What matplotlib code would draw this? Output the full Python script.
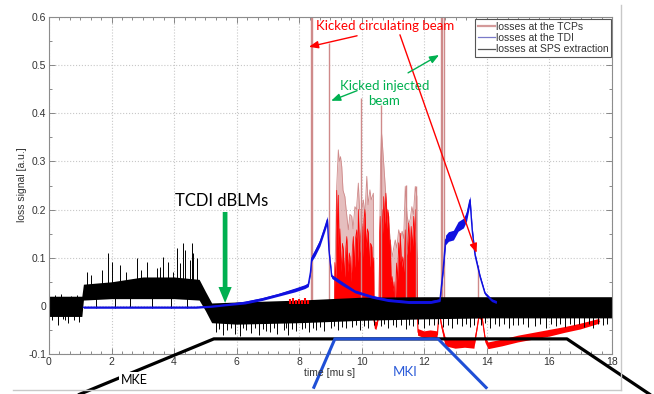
import numpy as np
import matplotlib
matplotlib.use("Agg")
import matplotlib.pyplot as plt
from matplotlib.lines import Line2D
from matplotlib.patches import FancyArrowPatch
from matplotlib.ticker import MultipleLocator

# ---------------- data ----------------
# losses at SPS extraction: upper / lower edge of the noise band
sps_t = [0.0, 1.05, 1.1, 2.0, 3.0, 4.0, 4.8, 5.0, 5.2, 6.0, 8.0, 10.0, 12.0, 14.0, 16.0, 18.0]
sps_hi = [0.02, 0.02, 0.045, 0.05, 0.06, 0.06, 0.055, 0.03, 0.006, 0.008, 0.012, 0.018, 0.019, 0.019, 0.019, 0.019]
sps_lo = [-0.022, -0.022, 0.012, 0.015, 0.015, 0.015, 0.012, -0.01, -0.035, -0.038, -0.035, -0.03, -0.027, -0.025, -0.025, -0.025]

# individual SPS spikes sticking out of the band
sps_spk0_t = [0.1, 0.3, 0.45, 0.6, 0.8, 0.95, 0.2, 0.7, 0.38, 0.88, 0.52]
sps_spk0_v = [-0.03, -0.04, -0.028, -0.035, -0.03, -0.033, 0.022, 0.021, 0.024, 0.023, -0.03]
sps_spk1_t = [1.2, 1.35, 1.5, 1.7, 1.89, 2.0, 2.1, 2.27, 2.45, 2.6, 2.8, 2.95, 3.12, 3.3, 3.44,
              3.55, 3.65, 3.8, 3.9, 3.97, 4.1, 4.2, 4.28, 4.35, 4.4, 4.5, 4.57, 4.6, 4.72]
sps_spk1_v = [0.071, 0.065, -0.004, 0.075, 0.110, 0.092, -0.005, 0.085, 0.07, -0.003, 0.100,
              0.075, 0.092, -0.004, 0.078, 0.08, 0.102, 0.092, -0.005, 0.071, 0.12, 0.09, 0.131,
              0.115, -0.004, 0.095, 0.131, 0.11, 0.100]
sps_spk2_t = [5.35, 5.45, 5.55, 5.7, 5.82, 5.95, 6.1, 6.2, 6.3, 6.45, 6.58, 6.7, 6.85, 6.95, 7.05,
              7.18, 7.3, 7.5, 7.58, 7.65, 7.78, 7.9, 8.1, 8.2, 8.3, 8.45, 8.55, 8.68, 8.8, 9.0,
              9.12, 9.25, 9.38, 9.5, 9.7, 9.82, 9.95, 10.08, 10.2, 10.4, 10.6, 10.72, 10.85,
              11.0, 11.1, 11.25, 11.4, 11.52, 11.65, 11.8, 12.0, 12.15, 12.3, 12.45, 12.6, 12.75,
              12.9, 13.05, 13.2, 13.32, 13.45, 13.6, 13.8, 13.95, 14.1, 14.25, 14.4, 14.55, 14.7,
              14.85, 15.0, 15.15, 15.3, 15.55, 15.7, 15.9, 16.05, 16.2, 16.35, 16.5, 16.65, 16.8,
              16.95, 17.1, 17.25, 17.4, 17.55, 17.7, 17.85]
sps_spk2_v = [-0.055, -0.048, -0.06, -0.05, -0.045, -0.058, -0.062, -0.047, -0.05, -0.056, -0.046,
              -0.06, -0.048, -0.052, -0.055, -0.047, -0.058, -0.05, -0.045, -0.06, -0.048, -0.052,
              -0.048, -0.045, -0.055, -0.046, -0.05, -0.044, -0.052, -0.045, -0.042, -0.05,
              -0.043, -0.047, -0.043, -0.04, -0.05, -0.041, -0.045, -0.04, -0.042, -0.038, -0.046,
              -0.04, -0.044, -0.039, -0.048, -0.04, -0.042, -0.038, -0.045, -0.04, -0.04, -0.037,
              -0.043, -0.039, -0.046, -0.038, -0.042, -0.037, -0.044, -0.039, -0.04, -0.036,
              -0.045, -0.038, -0.042, -0.037, -0.046, -0.039, -0.04, -0.037, -0.044, -0.042,
              -0.038, -0.045, -0.037, -0.041, -0.038, -0.044, -0.037, -0.04, -0.038, -0.043,
              -0.037, -0.045, -0.038, -0.04, -0.037]

# losses at the TDI
tdi_t = [1.1, 2.0, 3.0, 4.0, 4.7, 5.2, 5.63, 6.27, 6.8, 7.33, 7.86, 8.18, 8.29, 8.36, 8.4, 8.5,
         8.66, 8.82, 8.9, 8.95, 9.04, 9.36, 9.78, 10.32, 10.84, 11.5, 12.2, 12.5, 12.6, 12.68,
         12.77, 12.93, 13.08, 13.25, 13.35, 13.46, 13.53, 13.62, 13.78, 13.94, 14.15, 14.3]
tdi_v = [-0.003, -0.003, -0.003, -0.003, -0.003, -0.001, 0.002, 0.007, 0.014, 0.023, 0.033, 0.040,
         0.044, 0.07, 0.099, 0.110, 0.131, 0.162, 0.179, 0.116, 0.061, 0.047, 0.030, 0.019, 0.012,
         0.008, 0.008, 0.012, 0.075, 0.137, 0.144, 0.147, 0.165, 0.172, 0.186, 0.22, 0.158, 0.106,
         0.061, 0.026, 0.012, 0.008]
tdi_noise = [0.002, 0.002, 0.002, 0.002, 0.002, 0.002, 0.002, 0.003, 0.003, 0.003, 0.004, 0.004,
             0.004, 0.005, 0.006, 0.007, 0.007, 0.007, 0.007, 0.004, 0.004, 0.004, 0.003, 0.003,
             0.003, 0.003, 0.003, 0.003, 0.008, 0.01, 0.01, 0.01, 0.01, 0.01, 0.01, 0.008, 0.006,
             0.005, 0.004, 0.003, 0.003, 0.003]

# losses at the TCPs: dense bursts (core and outer envelope)
tcp_core_t = [9.12, 9.14, 9.18, 9.2, 9.23, 9.25, 9.28, 9.3, 9.34, 9.38, 9.41, 9.45, 9.49, 9.52,
              9.56, 9.6, 9.62, 9.66, 9.7, 9.73, 9.77, 9.8, 9.84, 9.87, 9.89, 9.93, 9.97, 10.0,
              10.04, 10.07, 10.1, 10.14, 10.18, 10.21, 10.25, 10.28, 10.32, 10.35, 10.38, 10.39,
              10.55, 10.57, 10.59, 10.62, 10.65, 10.68, 10.7, 10.73, 10.77, 10.8, 10.83, 10.86,
              10.89, 10.91, 10.94, 10.97, 11.0, 11.03, 11.05,
              11.07, 11.11, 11.14, 11.18, 11.21, 11.23, 11.27, 11.31, 11.35, 11.39, 11.42, 11.46,
              11.5, 11.54, 11.58, 11.62, 11.66, 11.7, 11.73, 11.76, 11.77]
tcp_core_v = [0.0, 0.09, 0.05, 0.24, 0.12, 0.23, 0.10, 0.16, 0.07, 0.13, 0.116, 0.06, 0.12, 0.144,
              0.07, 0.11, 0.102, 0.05, 0.12, 0.144, 0.08, 0.14, 0.158, 0.09, 0.2, 0.11, 0.15,
              0.172, 0.1, 0.18, 0.2, 0.12, 0.16, 0.151, 0.08, 0.13, 0.123, 0.07, 0.10, 0.0,
              0.0, 0.15, 0.186, 0.12, 0.2, 0.15, 0.227, 0.17, 0.234, 0.16, 0.2, 0.186, 0.1,
              0.137, 0.05, 0.061, 0.03, 0.05, 0.0,
              0.0, 0.089, 0.05, 0.131, 0.09, 0.151, 0.08, 0.102, 0.07, 0.158, 0.1, 0.12, 0.172,
              0.11, 0.165, 0.12, 0.186, 0.13, 0.2, 0.1, 0.0]
tcp_env_t = [9.12, 9.2, 9.25, 9.28, 9.32, 9.36, 9.4, 9.46, 9.5, 9.57, 9.62, 9.68, 9.72, 9.78, 9.83,
             9.89, 9.93, 10.0, 10.05, 10.1, 10.16, 10.2, 10.26, 10.3, 10.37, 10.39,
             10.55, 10.6, 10.63, 10.65, 10.7, 10.75, 10.8, 10.86, 10.92, 10.97, 11.02, 11.07,
             11.12, 11.18, 11.24, 11.29, 11.34, 11.39, 11.45, 11.5, 11.55, 11.6, 11.65, 11.71,
             11.76, 11.78]
tcp_env_v = [0.0, 0.25, 0.324, 0.30, 0.31, 0.289, 0.24, 0.227, 0.20, 0.158, 0.19, 0.186, 0.16,
             0.206, 0.2, 0.255, 0.2, 0.2, 0.22, 0.19, 0.269, 0.21, 0.241, 0.22, 0.234, 0.0,
             0.0, 0.3, 0.36, 0.345, 0.297, 0.248, 0.2, 0.172, 0.13, 0.102, 0.12, 0.137,
             0.12, 0.158, 0.14, 0.155, 0.14, 0.248, 0.186, 0.17, 0.18, 0.206, 0.19, 0.248,
             0.227, 0.0]
# isolated TCP spikes (values above 0.6 run off the top of the axes)
tcp_spike_t = [8.38, 8.42, 8.96, 9.96, 10.61, 11.41, 11.73, 12.53, 12.57, 12.64, 13.72]
tcp_spike_v = [0.65, 0.65, 0.546, 0.431, 0.417, 0.251, 0.25, 0.65, 0.65, 0.65, 0.085]
# low-level TCP signal after the kicks (NaN separates pieces)
tcp_low_t = [10.37, 10.42, 10.47, 10.52, np.nan,
             11.77, 11.8, 12.0, 12.2, 12.42, 12.47, 12.55, 12.68, 13.0, 13.3, 13.6, 13.68,
             13.75, 13.85, 13.95, 14.05, 14.5, 15.0, 15.5, 16.0, 16.5, 17.0, 17.6]
tcp_low_v = [-0.02, -0.04, -0.042, -0.03, np.nan,
             0.0, -0.055, -0.06, -0.058, -0.06, -0.01, -0.04, -0.075, -0.08, -0.078, -0.08,
             -0.05, -0.02, -0.025, -0.07, -0.083, -0.077, -0.069, -0.063, -0.057, -0.05, -0.043,
             -0.032]
tcp_low_w = [0.006, 0.008, 0.008, 0.006, np.nan,
             0.004, 0.007, 0.007, 0.007, 0.007, 0.006, 0.006, 0.009, 0.009, 0.009, 0.009,
             0.006, 0.006, 0.006, 0.006, 0.007, 0.007, 0.007, 0.007, 0.007, 0.006, 0.006, 0.005]
tcp_pre_t = [7.72, 7.8, 7.9, 8.0, 8.1, 8.2, 8.28]
tcp_pre_v = [0.014, 0.016, 0.012, 0.015, 0.013, 0.016, 0.012]

# kicker waveforms (time in mu s, level in signal units)
mke_t = [0.93, 5.27, 16.56, 19.28]
mke_level = [-0.185, -0.0686, -0.0686, -0.187]
mki_t = [8.45, 9.14, 12.44, 14.01]
mki_level = [-0.172, -0.0686, -0.0686, -0.172]

x_ticks = [0, 2, 4, 6, 8, 10, 12, 14, 16, 18]
y_ticks = [-0.1, 0, 0.1, 0.2, 0.3, 0.4, 0.5, 0.6]
y_ticklabels = ["-0.1", "0", "0.1", "0.2", "0.3", "0.4", "0.5", "0.6"]

# ---------------- figure ----------------
W, H = 654, 394
fig = plt.figure(figsize=(W / 100, H / 100), dpi=100)
ax = fig.add_axes([49 / W, 1 - 354 / H, 563 / W, 337 / H])
ax.set_xlim(0, 18)
ax.set_ylim(-0.1, 0.6)

RED = "#ff0000"
PINK = "#d79c9c"
BLUE = "#1010e0"
GREEN = "#00b050"

# TCP losses
ax.fill_between(tcp_env_t, 0, tcp_env_v, color=PINK, lw=0, alpha=0.65, zorder=1.5)
ax.plot(tcp_env_t, tcp_env_v, color="#cf8a8a", lw=0.6, zorder=1.5)
ax.fill_between(tcp_core_t, 0, tcp_core_v, color=RED, lw=0, zorder=1.6)
ax.plot(tcp_core_t, tcp_core_v, color=RED, lw=0.5, zorder=1.6)
ax.vlines(tcp_spike_t, 0, tcp_spike_v, color="#cf8a8a", lw=1.0, zorder=1.7)
low_t = np.array(tcp_low_t)
low_v = np.array(tcp_low_v)
low_w = np.array(tcp_low_w)
ax.fill_between(low_t, low_v - low_w, low_v + low_w, color=RED, lw=0, zorder=1.8)
ax.plot(low_t, low_v, color=RED, lw=0.8, zorder=1.8)
ax.vlines(tcp_pre_t, 0.004, tcp_pre_v, color=RED, lw=1.5, zorder=2.3)

# SPS extraction losses
ax.fill_between(sps_t, sps_lo, sps_hi, color="black", lw=0, zorder=2)
ax.vlines(sps_spk0_t, 0, sps_spk0_v, color="black", lw=0.7, zorder=2.1)
ax.vlines(sps_spk1_t, 0.03, sps_spk1_v, color="black", lw=0.7, zorder=2.1)
ax.vlines(sps_spk2_t, -0.01, sps_spk2_v, color="black", lw=0.7, zorder=2.1)

# TDI losses
tdi_t_a = np.array(tdi_t)
tdi_v_a = np.array(tdi_v)
tdi_n_a = np.array(tdi_noise)
ax.fill_between(tdi_t_a, tdi_v_a - tdi_n_a, tdi_v_a + tdi_n_a, color=BLUE, lw=0, zorder=2.5)
ax.plot(tdi_t_a, tdi_v_a, color=BLUE, lw=1.0, zorder=2.5)

# kicker waveforms running below the axes
ax.plot(mke_t, mke_level, color="black", lw=2.3, clip_on=False, zorder=3, solid_capstyle="butt")
ax.plot(mki_t, mki_level, color="#1f4fd6", lw=2.2, clip_on=False, zorder=3.1, solid_capstyle="butt")

# axes styling
ax.set_xticks(x_ticks)
ax.set_yticks(y_ticks)
ax.set_yticklabels(y_ticklabels)
ax.xaxis.set_minor_locator(MultipleLocator(2 / 6))
ax.yaxis.set_minor_locator(MultipleLocator(0.05))
ax.tick_params(which="both", direction="in", top=True, right=True, color="#777777",
               labelsize=7.5, labelcolor="#333333", pad=2)
ax.tick_params(which="major", length=4, width=0.6)
ax.tick_params(which="minor", length=2.5, width=0.6)
ax.grid(True, which="major", color="#c8c8c8", linestyle=":", linewidth=0.8)
ax.set_axisbelow(True)
for s in ax.spines.values():
    s.set_color("#8c8c8c")
    s.set_linewidth(0.8)
for lbl in ax.get_xticklabels() + ax.get_yticklabels():
    lbl.set_family("Liberation Sans")

fig.text(330 / W, 1 - 373 / H, "time [mu s]", ha="center", va="center", fontsize=7.5,
         color="#333333", family="Liberation Sans")
fig.text(22 / W, 1 - 185 / H, "loss signal [a.u.]", ha="center", va="center", rotation=90,
         fontsize=7.5, color="#333333", family="Liberation Sans")

# legend
handles = [Line2D([], [], color="#d49a9a", lw=1.6),
           Line2D([], [], color="#7a7ac8", lw=0.9),
           Line2D([], [], color="#555555", lw=0.9)]
labels = ["losses at the TCPs", "losses at the TDI", "losses at SPS extraction"]
leg = ax.legend(handles, labels, loc="upper right", bbox_to_anchor=(0.999, 0.995),
                fontsize=7.5, frameon=True, fancybox=False, framealpha=1,
                borderpad=0.3, labelspacing=0.12, handlelength=1.6, handletextpad=0.1,
                borderaxespad=0.0, prop={"family": "Liberation Sans", "size": 7.5})
leg.get_frame().set_edgecolor("#555555")
leg.get_frame().set_linewidth(0.8)
for t in leg.get_texts():
    t.set_color("#333333")
leg.set_zorder(5)

# annotations
ANN = "Lato"
ax.text(10.74, 0.582, "Kicked circulating beam", color=RED, fontsize=9.5, family=ANN,
        ha="center", va="center", zorder=6)
ax.text(10.72, 0.442, "Kicked injected\nbeam", color=GREEN, fontsize=9.5, family=ANN,
        ha="center", va="center", linespacing=1.3, zorder=6)
ax.text(5.53, 0.218, "TCDI dBLMs", color="black", fontsize=12, family=ANN,
        ha="center", va="center", zorder=6)
ax.text(2.72, -0.154, "MKE", color="black", fontsize=9, family=ANN, ha="center", va="center",
        zorder=4, clip_on=False, bbox=dict(facecolor="white", edgecolor="none", pad=1.5))
ax.text(11.38, -0.137, "MKI", color="#2a5ad8", fontsize=9.5, family=ANN, ha="center",
        va="center", zorder=4, clip_on=False)


def arrow(p0, p1, color, style, lw=1.0, scale=10):
    a = FancyArrowPatch(p0, p1, arrowstyle=style, color=color, lw=lw, mutation_scale=scale,
                        shrinkA=0, shrinkB=0, zorder=6, clip_on=False)
    ax.add_patch(a)


thin = "-|>,head_length=0.55,head_width=0.22"
arrow((9.85, 0.561), (8.31, 0.538), RED, thin)
arrow((11.22, 0.563), (13.67, 0.110), RED, thin)
arrow((9.85, 0.447), (9.02, 0.426), GREEN, thin)
arrow((11.48, 0.484), (12.47, 0.521), GREEN, thin)
arrow((5.63, 0.195), (5.63, 0.006), GREEN,
      "simple,head_length=1.15,head_width=0.95,tail_width=0.34", lw=0)

# page frame around the plot
fig.add_artist(Line2D([621 / W, 621 / W], [1 - 5 / H, 1 - 390 / H], color="#c8c8c8", lw=1.0))
fig.add_artist(Line2D([13 / W, 621 / W], [1 - 390 / H, 1 - 390 / H], color="#c8c8c8", lw=1.0))

fig.savefig("out.png", dpi=100)
